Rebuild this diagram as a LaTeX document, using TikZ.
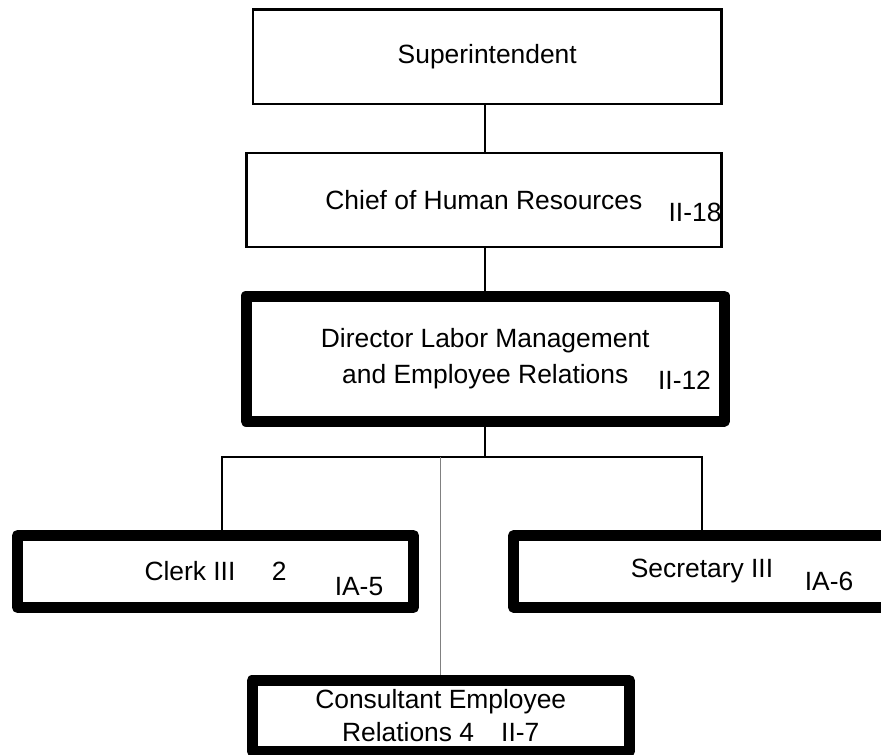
\documentclass[tikz,border=0pt]{standalone}
\usepackage{fontspec}
\setmainfont{Liberation Sans}
\usepackage{tikz}

\begin{document}
\begin{tikzpicture}[x=0.5pt,y=-0.5pt]
\tikzstyle{every node}+=[inner sep=0pt,font=\fontsize{13.2}{18}\selectfont]
\tikzstyle{thinbox}=[draw,line width=1.25pt,rectangle,align=center]
\tikzstyle{thickbox}=[draw,line width=5.5pt,line join=round,rectangle,align=center]
\tikzstyle{link}=[line width=1.25pt]
\tikzstyle{bus}=[line width=0.8pt]
\tikzstyle{feed}=[line width=0.6pt,gray]
\useasboundingbox (0,0) rectangle (881,754);
\node [thinbox,minimum width=234.25pt,minimum height=47.25pt] (super) at (487.25,56.75) {Superintendent};
\node [thinbox,minimum width=237.6pt,minimum height=47pt] (chief) at (483.9,199.8) {Chief of Human Resources};
\node (c18) at (695,212.7) {II-18};
\node [thickbox,minimum width=239.25pt,minimum height=62.5pt] (dir) at (485.25,358.5) {Director Labor Management\\and Employee Relations};
\node (c12) at (684.5,380) {II-12};
\node [thickbox,minimum width=198pt,minimum height=36pt] (clerk) at (215.5,571.5) {Clerk III\hspace{1.1em} 2};
\node (ia5) at (359,586.7) {IA-5};
\node [thickbox,minimum width=188.5pt,minimum height=35.7pt] (sec) at (702,571.35) {Secretary III};
\node (ia6) at (829,581.7) {IA-6};
\node [thickbox,minimum width=188.75pt,minimum height=35.25pt,font=\fontsize{13.2}{16.4}\selectfont] (cons) at (440.75,715.75) {Consultant Employee\\Relations 4\hspace{0.75em} II-7};
\coordinate (bus) at (485,457);
\coordinate (busL) at (222,457);
\draw [link] (super.south -| bus) -- (chief.north -| bus);
\draw [link] (chief.south -| bus) -- (dir.north -| bus);
\draw [bus] (dir.south -| bus) -- (bus);
\draw [bus] (clerk.north -| busL) |- (bus) -| (sec.north);
\draw [feed] (bus -| cons.north) -- (cons.north);
\end{tikzpicture}
\end{document}
